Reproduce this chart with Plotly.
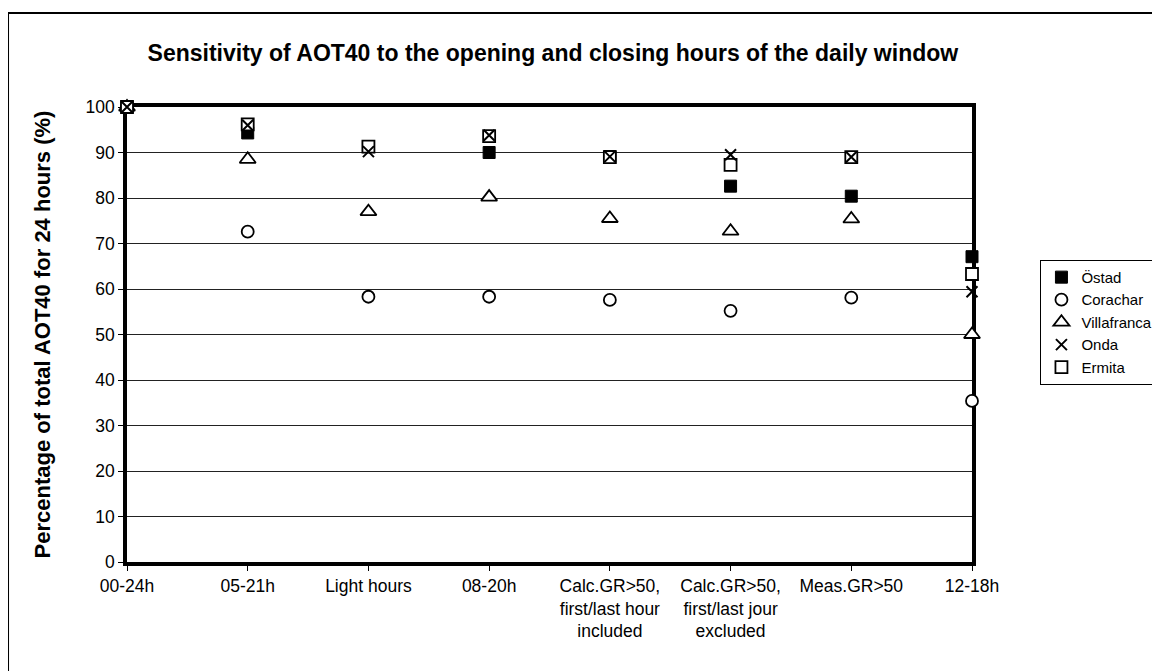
import plotly.graph_objects as go

categories = ["00-24h", "05-21h", "Light hours", "08-20h",
              "Calc.GR>50,<br>first/last hour<br>included",
              "Calc.GR>50,<br>first/last jour<br>excluded",
              "Meas.GR>50", "12-18h"]

ostad = [100, 94.3, 91.3, 90.0, 89.1, 82.6, 80.4, 67.1]
corachar = [100, 72.6, 58.3, 58.3, 57.6, 55.2, 58.1, 35.4]
villafranca = [100, 88.5, 77.0, 80.2, 75.5, 72.7, 75.4, 50.0]
onda = [100, 96.0, 90.2, 93.8, 89.1, 89.5, 89.0, 59.4]
ermita = [100, 96.2, 91.3, 93.6, 89.0, 87.3, 89.0, 63.3]

x = list(range(len(categories)))

# drawing order differs from legend order so the crosses sit on top of the squares
traces = [
    ("Östad", ostad, dict(symbol="square", size=12, color="black",
                          line=dict(color="black", width=1)), 1),
    ("Corachar", corachar, dict(symbol="circle", size=12, color="white",
                                line=dict(color="black", width=1.8)), 2),
    ("Villafranca", villafranca, dict(symbol="triangle-up", size=14, color="white",
                                      line=dict(color="black", width=1.8)), 3),
    ("Ermita", ermita, dict(symbol="square", size=12, color="white",
                            line=dict(color="black", width=1.8)), 5),
    ("Onda", onda, dict(symbol="x-thin-open", size=11, color="black",
                        line=dict(color="black", width=2)), 4),
]

fig = go.Figure()
for name, vals, marker, rank in traces:
    fig.add_trace(go.Scatter(x=x, y=vals, name=name, mode="markers",
                             marker=marker, cliponaxis=False, legendrank=rank))

fig.update_layout(
    width=1152, height=663,
    margin=dict(l=119, r=188, t=99, b=109, autoexpand=False),
    paper_bgcolor="white", plot_bgcolor="white",
    font=dict(family="Liberation Sans, Arial", size=17, color="black"),
    title=dict(text="<b>Sensitivity of AOT40 to the opening and closing hours of the daily window</b>",
               x=0.473, xanchor="center", y=0.932, yanchor="middle",
               font=dict(size=23)),
    xaxis=dict(range=[0, 7], tickmode="array", tickvals=x, ticktext=categories,
               showgrid=False, zeroline=False, showline=True, linecolor="black",
               linewidth=3.5, mirror=True, ticks="outside", ticklen=5,
               tickcolor="black", tickfont=dict(size=17.5), layer="below traces"),
    yaxis=dict(range=[0, 100], dtick=10, showgrid=True, gridcolor="#222222",
               gridwidth=1, zeroline=False, showline=True, linecolor="black",
               linewidth=3.5, mirror=True, ticks="outside", ticklen=5,
               tickcolor="black", tickfont=dict(size=17.5), layer="below traces",
               title=dict(text="<b>Percentage of total AOT40 for 24 hours (%)</b>",
                          font=dict(size=22), standoff=30)),
    legend=dict(x=1.081, xanchor="left", y=0.664, yanchor="top",
                bordercolor="black", borderwidth=1, bgcolor="white",
                font=dict(size=15), itemwidth=30, tracegroupgap=0),
    showlegend=True,
)

# outer chart border
fig.add_shape(type="rect", xref="paper", yref="paper",
              x0=-0.1408, x1=1.3, y0=-0.3, y1=1.2066,
              line=dict(color="black", width=2), fillcolor="rgba(0,0,0,0)",
              layer="below")

fig.write_html("out.html")
